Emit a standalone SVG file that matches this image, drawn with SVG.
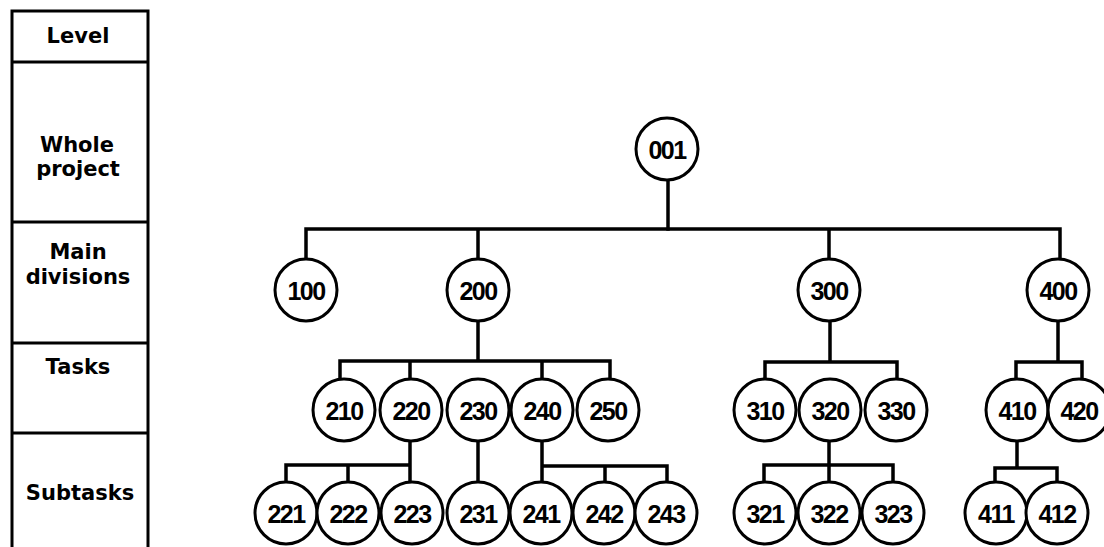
<svg xmlns="http://www.w3.org/2000/svg" width="1104" height="547" viewBox="0 0 1104 547">
  <style>
    .frame { fill: none; stroke: #000; stroke-width: 3; }
    .lvl { font-family: "DejaVu Sans", "Liberation Sans", sans-serif; font-weight: bold; font-size: 21px; fill: #000; text-anchor: middle; }
    .node circle { fill: #fff; stroke: #000; stroke-width: 3; }
    .node text { font-family: "Liberation Sans", Arial, sans-serif; font-weight: bold; font-size: 25px; letter-spacing: -1.5px; fill: #000; text-anchor: middle; dominant-baseline: central; }
    .wire { fill: none; stroke: #000; stroke-width: 3.5; stroke-linejoin: miter; stroke-linecap: square; }
  </style>
  <rect width="1104" height="547" fill="#fff"/>

  <!-- level column: open at the bottom -->
  <g id="levels">
    <path class="frame" d="M12 549 V11 H148 V549 M12 62 H148 M12 222 H148 M12 343 H148 M12 433 H148"/>
    <text class="lvl" x="78" y="43">Level</text>
    <text class="lvl" x="77" y="152">Whole</text>
    <text class="lvl" x="78" y="176">project</text>
    <text class="lvl" x="78" y="259">Main</text>
    <text class="lvl" x="78" y="284">divisions</text>
    <text class="lvl" x="78" y="374">Tasks</text>
    <text class="lvl" x="80" y="500">Subtasks</text>
  </g>

  <!-- connectors: stems and sibling bars -->
  <g id="connectors" class="wire">
    <path d="M668 180 V229"/>
    <path d="M306 258 V229 H1060 V258 M478 229 V258 M829 229 V258"/>
    <path d="M478 322 V361 M340 380 V361 H610 V380 M410 361 V380 M542 361 V380"/>
    <path d="M830 322 V362 M765 380 V362 H897 V380"/>
    <path d="M1058 322 V362 M1016 380 V362 H1082 V380"/>
    <path d="M410 440 V465 M286 483 V465 H410 V483 M348 465 V483"/>
    <path d="M478 440 V483"/>
    <path d="M542 440 V483 M542 466 H667 V483 M605 466 V483"/>
    <path d="M829 440 V483 M764 483 V465 H893 V483"/>
    <path d="M1017 440 V468 M995 483 V468 H1057 V483"/>
  </g>

  <!-- whole project -->
  <g id="n001" class="node"><circle cx="667" cy="149" r="31"/><text x="667" y="150">001</text></g>

  <!-- main divisions -->
  <g id="n100" class="node"><circle cx="306" cy="290" r="31"/><text x="306" y="291">100</text></g>
  <g id="n200" class="node"><circle cx="478" cy="290" r="31"/><text x="478" y="291">200</text></g>
  <g id="n300" class="node"><circle cx="829" cy="290" r="31"/><text x="829" y="291">300</text></g>
  <g id="n400" class="node"><circle cx="1058" cy="290" r="31"/><text x="1058" y="291">400</text></g>

  <!-- tasks -->
  <g id="n210" class="node"><circle cx="344" cy="410" r="31"/><text x="344" y="411">210</text></g>
  <g id="n220" class="node"><circle cx="411" cy="410" r="31"/><text x="411" y="411">220</text></g>
  <g id="n230" class="node"><circle cx="478" cy="410" r="31"/><text x="478" y="411">230</text></g>
  <g id="n240" class="node"><circle cx="542" cy="410" r="31"/><text x="542" y="411">240</text></g>
  <g id="n250" class="node"><circle cx="608" cy="410" r="31"/><text x="608" y="411">250</text></g>
  <g id="n310" class="node"><circle cx="765" cy="410" r="31"/><text x="765" y="411">310</text></g>
  <g id="n320" class="node"><circle cx="830" cy="410" r="31"/><text x="830" y="411">320</text></g>
  <g id="n330" class="node"><circle cx="896" cy="410" r="31"/><text x="896" y="411">330</text></g>
  <g id="n410" class="node"><circle cx="1017" cy="410" r="31"/><text x="1017" y="411">410</text></g>
  <g id="n420" class="node"><circle cx="1079" cy="410" r="31"/><text x="1079" y="411">420</text></g>

  <!-- subtasks -->
  <g id="n221" class="node"><circle cx="286" cy="513" r="31"/><text x="286" y="514">221</text></g>
  <g id="n222" class="node"><circle cx="348" cy="513" r="31"/><text x="348" y="514">222</text></g>
  <g id="n223" class="node"><circle cx="412" cy="513" r="31"/><text x="412" y="514">223</text></g>
  <g id="n231" class="node"><circle cx="478" cy="513" r="31"/><text x="478" y="514">231</text></g>
  <g id="n241" class="node"><circle cx="541" cy="513" r="31"/><text x="541" y="514">241</text></g>
  <g id="n242" class="node"><circle cx="604" cy="513" r="31"/><text x="604" y="514">242</text></g>
  <g id="n243" class="node"><circle cx="666" cy="513" r="31"/><text x="666" y="514">243</text></g>
  <g id="n321" class="node"><circle cx="765" cy="513" r="31"/><text x="765" y="514">321</text></g>
  <g id="n322" class="node"><circle cx="829" cy="513" r="31"/><text x="829" y="514">322</text></g>
  <g id="n323" class="node"><circle cx="893" cy="513" r="31"/><text x="893" y="514">323</text></g>
  <g id="n411" class="node"><circle cx="996" cy="513" r="31"/><text x="996" y="514">411</text></g>
  <g id="n412" class="node"><circle cx="1057" cy="513" r="31"/><text x="1057" y="514">412</text></g>
</svg>
